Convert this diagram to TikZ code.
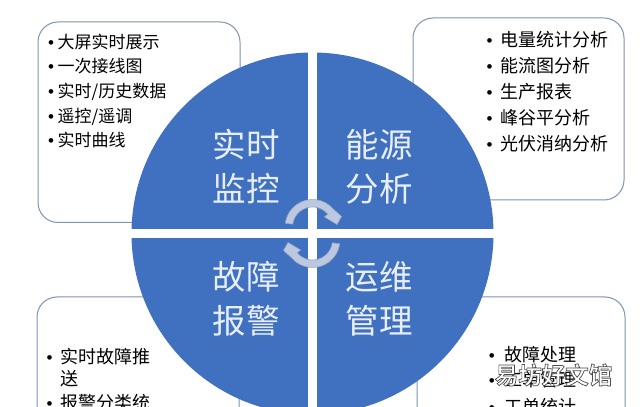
\documentclass[tikz,border=0pt]{standalone}
\usepackage{fontspec}
\setmainfont[BoldFont={Noto Sans CJK SC Bold}]{Noto Sans CJK SC}
\newfontfamily\bulletfont{Liberation Sans}
\definecolor{qblue}{HTML}{4070C0}
\definecolor{boxline}{HTML}{7F93B2}
\definecolor{arrowfill}{HTML}{BCC8DF}
\definecolor{arrowedge}{HTML}{9AA6BC}
\definecolor{labeltxt}{HTML}{E8EEF8}
\newcommand{\bul}[1]{\makebox[#1][l]{\bulletfont\fontsize{17}{17}\selectfont •}}
\newcommand{\turnshape}{(312.5,180) ++(172:27.5) arc (172:40:27.5) -- (341.5,190.5) -- (337,182.5) -- (324.5,190) -- (327.8,192.9) arc (40:172:20) -- cycle}
\tikzset{
  panel/.style={draw=boxline,line width=1pt,fill=white,rounded corners=20pt},
  quad/.style={fill=qblue},
  itemL/.style={anchor=base west,inner sep=0pt,font=\fontsize{17}{17}\selectfont,text=black},
  itemR/.style={anchor=base west,inner sep=0pt,font=\fontsize{18}{18}\selectfont,text=black},
  biglabel/.style={anchor=center,inner sep=0pt,font=\fontsize{33.5}{33.5}\selectfont,text=labeltxt},
  turn/.style={fill=arrowfill,draw=arrowedge,line width=0.6pt,line join=round}
}
\begin{document}
\begin{tikzpicture}[x=1pt,y=1pt]
\useasboundingbox (0,0) rectangle (640,407);
\clip (0,0) rectangle (640,407);
\fill[white] (0,0) rectangle (640,407);
% panels
\draw[panel] (38,184.5) rectangle (240,385);
\draw[panel] (413,207) rectangle (624,389);
\draw[panel] (37,-60) rectangle (239,110);
\draw[panel] (417,-60) rectangle (625,110);
% disc quadrants
\begin{scope}
\clip (312.5,173.5) circle (181);
\fill[quad] (120,178) rectangle (307.7,370);
\fill[quad] (317.3,178) rectangle (500,370);
\fill[quad] (120,-20) rectangle (307.7,169.3);
\fill[quad] (317.3,-20) rectangle (500,169.3);
\end{scope}
% curved arrows
\path[turn] \turnshape;
\path[turn,rotate around={180:(312.5,173.5)}] \turnshape;
% large labels
\node[biglabel] (rt) at (246,262) {实时};
\node[biglabel] (jk) at (246,218.5) {监控};
\node[biglabel] (ny) at (379,262) {能源};
\node[biglabel] (fx) at (379,218.5) {分析};
\node[biglabel] (gz) at (246,130) {故障};
\node[biglabel] (bj) at (246,86.5) {报警};
\node[biglabel] (yw) at (379,130) {运维};
\node[biglabel] (gl) at (379,86.5) {管理};
% top-left list
\node[itemL] (a1) at (48,358) {\bul{9.5pt}大屏实时展示};
\node[itemL] (a2) at (48,334) {\bul{9.5pt}一次接线图};
\node[itemL] (a3) at (48,309.5) {\bul{9.5pt}实时/历史数据};
\node[itemL] (a4) at (48,284.5) {\bul{9.5pt}遥控/遥调};
\node[itemL] (a5) at (48,260.5) {\bul{9.5pt}实时曲线};
% top-right list
\node[itemR] (b1) at (486.5,360) {\bul{14pt}电量统计分析};
\node[itemR] (b2) at (486.5,334) {\bul{14pt}能流图分析};
\node[itemR] (b3) at (486.5,308) {\bul{14pt}生产报表};
\node[itemR] (b4) at (486.5,282) {\bul{14pt}峰谷平分析};
\node[itemR] (b5) at (486.5,256) {\bul{14pt}光伏消纳分析};
% bottom-left list
\node[itemR] (c1) at (46.3,43.5) {\bul{13.7pt}实时故障推};
\node[itemR] (c1b) at (60,21.5) {送};
\node[itemR] (c2) at (46.3,-2.5) {\bul{13.7pt}报警分类统};
% bottom-right list
\node[itemR] (d1) at (488.7,45) {\bul{15.3pt}故障处理};
\node[itemR] (d2) at (488.7,20) {\bul{15.3pt}工单管理};
\node[itemR] (d3) at (488.7,-6) {\bul{15.3pt}工单统计};
% watermark
\node[anchor=center,inner sep=0pt,font=\bfseries\fontsize{23.5}{23.5}\selectfont,text=white] (wm) at (553.5,32)
  {\special{pdf:code 2 Tr 0.7 w 0.3 0.3 0.3 RG}易坊好文馆\special{pdf:code 0 Tr}};
\end{tikzpicture}
\end{document}
